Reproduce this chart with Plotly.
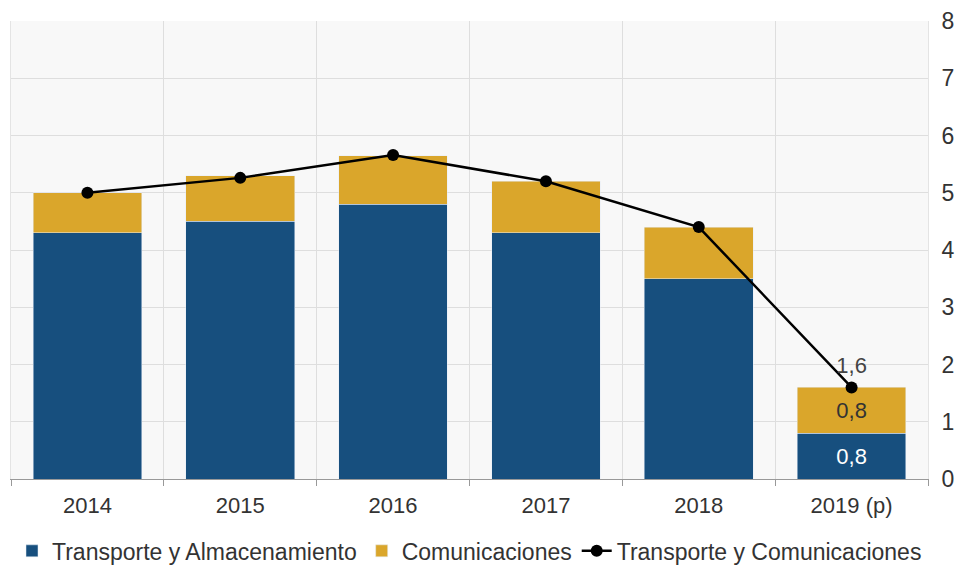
import plotly.graph_objects as go

years = ["2014", "2015", "2016", "2017", "2018", "2019 (p)"]
transporte = [4.3, 4.5, 4.8, 4.3, 3.5, 0.8]
comunicaciones = [0.7, 0.8, 0.85, 0.9, 0.9, 0.8]
total = [5.0, 5.26, 5.66, 5.2, 4.4, 1.6]

# only the last year gets data labels
lbl_t = [""] * 5 + ["0,8"]
lbl_c = [""] * 5 + ["0,8"]
lbl_tot = [""] * 5 + ["1,6"]

fig = go.Figure()
fig.add_trace(go.Bar(x=years, y=transporte, name="Transporte y Almacenamiento",
                     marker_color="#174f7e", text=lbl_t, textposition="inside",
                     insidetextanchor="middle", insidetextfont=dict(color="white", size=22)))
fig.add_trace(go.Bar(x=years, y=comunicaciones, name="Comunicaciones",
                     marker_color="#daa62b", text=lbl_c, textposition="inside",
                     insidetextanchor="middle", insidetextfont=dict(color="#333", size=22)))
fig.add_trace(go.Scatter(x=years, y=total, name="Transporte y Comunicaciones",
                         mode="lines+markers+text", text=lbl_tot, textposition="top center",
                         textfont=dict(color="#444", size=22),
                         line=dict(color="black", width=2.5), marker=dict(color="black", size=12)))

# page body has an 8px margin, so size/offsets are compensated
fig.update_layout(
    barmode="stack", bargap=0.29,
    width=956, height=560,
    margin=dict(l=3, r=36, t=13, b=89, autoexpand=False),
    paper_bgcolor="white", plot_bgcolor="#f8f8f8",
    font=dict(family="Liberation Sans, Arial", color="#333"),
    separators=",.",
    legend=dict(orientation="h", x=0.5, xanchor="center", y=-0.11, yanchor="top",
                font=dict(size=23), traceorder="normal", itemwidth=30, tracegroupgap=0),
    showlegend=True,
)
fig.update_xaxes(type="category", tickson="boundaries", showgrid=True, gridcolor="#dedede",
                 ticks="outside", ticklen=6, tickcolor="#999", showline=True, linecolor="#999",
                 tickfont=dict(size=22), automargin=False, ticklabelstandoff=7)
fig.update_yaxes(side="right", range=[0, 8], dtick=1, showgrid=True, gridcolor="#dedede",
                 tickfont=dict(size=23), zeroline=False, ticks="", ticklabelstandoff=8,
                 automargin=False, ticklabeloverflow="allow", mirror=True, showline=True,
                 linecolor="#e4e4e4")

fig.write_html("out.html")
